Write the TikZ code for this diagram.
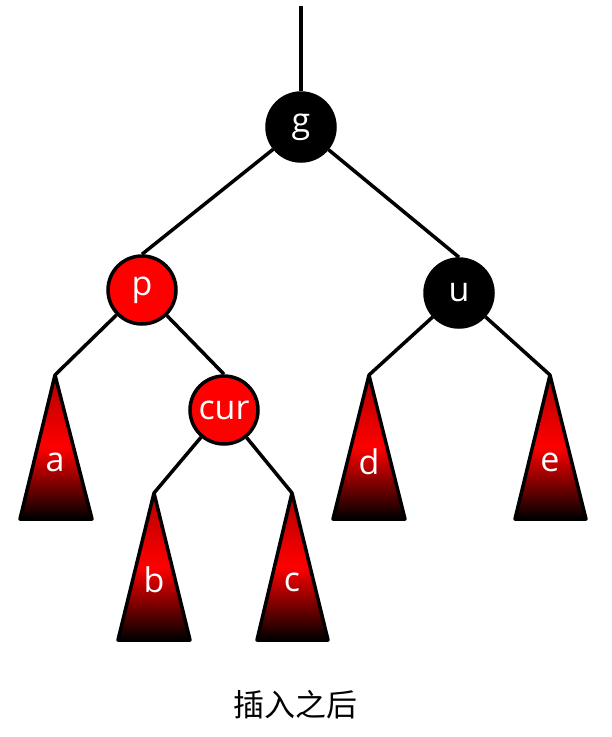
\documentclass[tikz,border=0pt]{standalone}
\usepackage{fontspec}
\setmainfont{Open Sans}
\newfontfamily\cjk{Noto Sans CJK SC}
\tikzset{
  rbnode/.style={circle, draw=black, line width=3.5pt, minimum size=68pt, inner sep=0pt, text=white, font=\fontsize{34}{34}\selectfont},
  rednode/.style={rbnode, fill=red},
  blacknode/.style={rbnode, fill=black},
  subtree/.style={draw=black, line width=3.5pt, line join=round, top color=red!70!black, bottom color=black, middle color=red},
  treelabel/.style={text=white, font=\fontsize{34}{34}\selectfont},
  edge/.style={line width=3.5pt}
}
\begin{document}
\begin{tikzpicture}[x=1pt,y=-1pt]
\useasboundingbox (0,0) rectangle (612,737);
% nodes
\node[blacknode] (g) at (301,127) {g};
\node[rednode] (p) at (142,290) {p};
\node[blacknode] (u) at (459,293) {u};
\node[rednode] (cur) at (224,410) {cur};
\coordinate (top) at (301,6);
% subtrees
\shade[subtree] (55,375) -- (92,519) -- (20,519) -- cycle;
\shade[subtree] (154,493) -- (190,640) -- (118,640) -- cycle;
\shade[subtree] (292,493) -- (328,640) -- (257,640) -- cycle;
\shade[subtree] (369,375) -- (405,519) -- (333,519) -- cycle;
\shade[subtree] (550,375) -- (586,519) -- (515,519) -- cycle;
\coordinate (a) at (55,375);
\coordinate (b) at (154,493);
\coordinate (c) at (292,493);
\coordinate (d) at (369,375);
\coordinate (e) at (550,375);
\node[treelabel] (la) at (55,462) {a};
\node[treelabel] (lb) at (154,580) {b};
\node[treelabel] (lc) at (292,582) {c};
\node[treelabel] (ld) at (369,462) {d};
\node[treelabel] (le) at (550,462) {e};
% edges
\draw[edge] (top) -- (g);
\draw[edge] (g) -- (p.north);
\draw[edge] (g) -- (u.north);
\draw[edge] (p) -- (a);
\draw[edge] (p) -- (cur.north);
\draw[edge] (cur) -- (b);
\draw[edge] (cur) -- (c);
\draw[edge] (u) -- (d);
\draw[edge] (u) -- (e);
% caption
\node[font=\cjk\fontsize{31}{31}\selectfont] (cap) at (295,705) {插入之后};
\end{tikzpicture}
\end{document}
